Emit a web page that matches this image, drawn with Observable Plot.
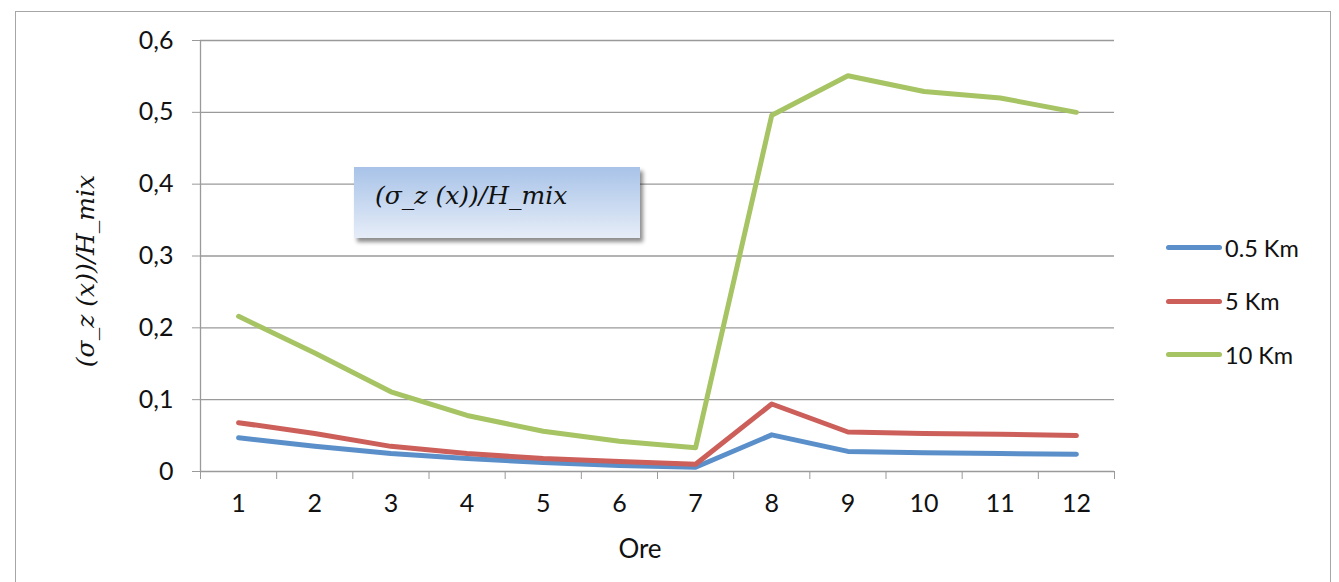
<!DOCTYPE html>
<html><head><meta charset="utf-8">
<script src="https://cdn.jsdelivr.net/npm/d3@7"></script>
<script src="https://cdn.jsdelivr.net/npm/@observablehq/plot@0.6"></script>
<style>
body{margin:0;background:#fff;font-family:Lato,"Open Sans",sans-serif;}
#wrap{position:relative;width:1339px;height:582px;overflow:hidden;}
#border{position:absolute;left:15px;top:11px;width:1316px;height:600px;border:1.5px solid #a6a6a6;box-sizing:border-box;}
#box{position:absolute;left:354px;top:167px;width:286px;height:71px;background:linear-gradient(#a8c3e8,#e6edf8);box-shadow:3px 4px 4px rgba(0,0,0,0.45);font-family:"DejaVu Serif","Liberation Serif",serif;font-style:italic;font-size:25px;color:#111;box-sizing:border-box;padding:14px 0 0 21px;white-space:nowrap;}
#legend{position:absolute;left:1166px;top:221px;font-size:23.5px;color:#111;}
.li{display:flex;align-items:center;height:53.5px;}
.sw{width:56px;height:5px;border-radius:3px;margin-right:3px;}
#ytitle{position:absolute;left:85px;top:271px;transform:translate(-50%,-50%) rotate(-90deg);white-space:nowrap;font-family:"DejaVu Serif","Liberation Serif",serif;font-style:italic;font-size:25px;color:#111;}
#xtitle{position:absolute;left:640px;top:548px;transform:translate(-50%,-50%);font-size:26px;color:#111;}
svg{position:absolute;left:0;top:0;}
</style></head>
<body><div id="wrap"><div id="border"></div></div>
<script>
const hours = [1,2,3,4,5,6,7,8,9,10,11,12];
const seriesNames = ["0.5 Km","5 Km","10 Km"];
const colors = ["#5b8fca","#cc5f5a","#a6c463"];
const v05 = [0.047,0.035,0.025,0.018,0.0125,0.0085,0.006,0.051,0.028,0.026,0.025,0.024];
const v5  = [0.068,0.053,0.035,0.025,0.018,0.014,0.010,0.094,0.055,0.053,0.052,0.050];
const v10 = [0.216,0.165,0.111,0.078,0.056,0.042,0.033,0.496,0.551,0.529,0.520,0.500];
const yTicks = [0,0.1,0.2,0.3,0.4,0.5,0.6];
const boundaries = d3.range(0.5, 13, 1);

const allVals = [v05, v5, v10];
const data = [];
seriesNames.forEach((s, i) => hours.forEach((h, j) => data.push({hour: h, value: allVals[i][j], series: s})));

const fmt = d => d === 0 ? "0" : d3.format(".1f")(d).replace(".", ",");

const chart = Plot.plot({
  width: 1339, height: 582,
  marginLeft: 200, marginRight: 225, marginTop: 40, marginBottom: 111,
  style: {fontFamily: "Lato, 'Open Sans', sans-serif", fontSize: "25px", color: "#111", background: "transparent"},
  x: {domain: [0.5, 12.5]},
  y: {domain: [0, 0.6]},
  color: {domain: seriesNames, range: colors},
  marks: [
    Plot.gridY(yTicks.filter(d => d > 0), {stroke: "#9a9a9a", strokeOpacity: 1, strokeWidth: 1.3}),
    Plot.axisY(yTicks, {tickSize: 8, tickPadding: 19, tickFormat: fmt, stroke: "#9a9a9a", fontSize: 25, label: null}),
    Plot.axisX(hours, {tickSize: 0, tickPadding: 23, tickFormat: d => String(d), fontSize: 25, label: null}),
    Plot.axisX(boundaries, {tickSize: 8, tickFormat: () => "", stroke: "#9a9a9a", label: null}),
    Plot.ruleY([0], {stroke: "#9a9a9a", strokeWidth: 1.3}),
    Plot.ruleX([0.5], {y1: 0, y2: 0.6, stroke: "#9a9a9a", strokeWidth: 1.3}),
    Plot.line(data, {x: "hour", y: "value", stroke: "series", strokeWidth: 5, strokeLinejoin: "round", strokeLinecap: "round"})
  ]
});
const wrap = document.getElementById("wrap");
wrap.appendChild(chart);

const box = document.createElement("div"); box.id = "box"; box.textContent = "(σ_z (x))/H_mix"; wrap.appendChild(box);
const yt = document.createElement("div"); yt.id = "ytitle"; yt.textContent = "(σ_z (x))/H_mix"; wrap.appendChild(yt);
const xt = document.createElement("div"); xt.id = "xtitle"; xt.textContent = "Ore"; wrap.appendChild(xt);
const lg = document.createElement("div"); lg.id = "legend";
seriesNames.forEach((s, i) => {
  const row = document.createElement("div"); row.className = "li";
  const sw = document.createElement("div"); sw.className = "sw"; sw.style.background = colors[i];
  const t = document.createElement("span"); t.textContent = s;
  row.appendChild(sw); row.appendChild(t); lg.appendChild(row);
});
wrap.appendChild(lg);
</script></body></html>
